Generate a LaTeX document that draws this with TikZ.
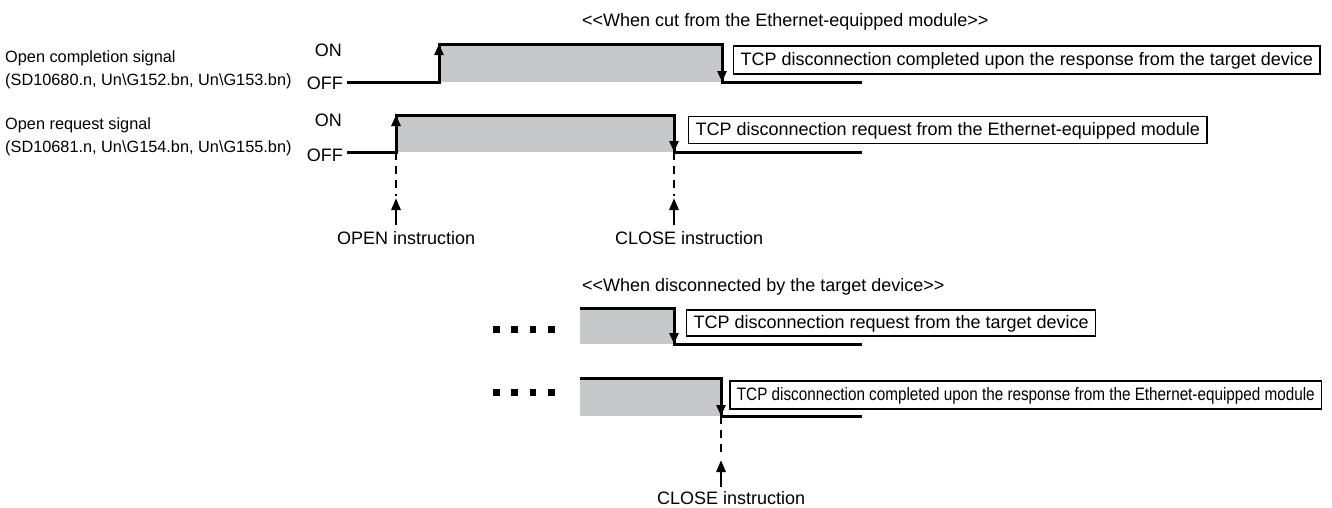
\documentclass[tikz,border=0pt]{standalone}
\usepackage{fontspec}
\newfontfamily\lsans{Liberation Sans}
\usetikzlibrary{arrows.meta}
\definecolor{siggrey}{RGB}{199,200,202}
\tikzset{
  txt/.style={font=\lsans\fontsize{18}{21}\selectfont, inner sep=0pt},
  sidetxt/.style={font=\lsans\fontsize{16.3}{19}\selectfont, inner sep=0pt},
  msgbox/.style={draw=black, line width=1.2pt, font=\lsans\fontsize{18}{21}\selectfont,
    inner xsep=7pt, inner ysep=0pt, text height=12pt, text depth=2pt, minimum height=27pt, anchor=west},
  sigline/.style={line width=3pt, line join=miter, line cap=butt, black},
  edgetip/.style={line width=2.6pt, -{Triangle[length=11pt,width=9pt]}},
  dashline/.style={line width=2.8pt, dash pattern=on 8pt off 6pt},
  instarrow/.style={line width=2.8pt, -{Triangle[length=12pt,width=9pt]}},
  dot/.style={fill=black, draw=none, minimum size=6.5pt, inner sep=0pt}
}
\begin{document}
\begin{tikzpicture}[x=1pt,y=-1pt]
\useasboundingbox (0,0) rectangle (1332,507);

% ---------- key coordinates ----------
% row 1: open completion signal
\coordinate (r1s) at (347,82);  \coordinate (r1a) at (439,82);
\coordinate (r1b) at (439,44);  \coordinate (r1c) at (722,44);
\coordinate (r1d) at (722,82);  \coordinate (r1e) at (862,82);
% row 2: open request signal
\coordinate (r2s) at (347,152); \coordinate (r2a) at (396,152);
\coordinate (r2b) at (396,115); \coordinate (r2c) at (674,115);
\coordinate (r2d) at (674,152); \coordinate (r2e) at (862,152);
% row 3
\coordinate (r3b) at (580,308); \coordinate (r3c) at (674,308);
\coordinate (r3d) at (674,344); \coordinate (r3e) at (862,344);
% row 4
\coordinate (r4b) at (580,378); \coordinate (r4c) at (721,378);
\coordinate (r4d) at (721,416); \coordinate (r4e) at (862,416);

% ---------- grey fills ----------
\fill[siggrey] (r1b) rectangle (r1d);
\fill[siggrey] (r2b) rectangle (r2d);
\fill[siggrey] (r3b) rectangle (r3d);
\fill[siggrey] (r4b) rectangle (r4d);

% ---------- waveforms ----------
\draw[sigline] (r1s) -- (r1a) -- (r1b) -- (r1c) -- (r1d) -- (r1e);
\draw[edgetip] (439,70) -- (r1b);
\draw[edgetip] (722,60) -- (r1d);

\draw[sigline] (r2s) -- (r2a) -- (r2b) -- (r2c) -- (r2d) -- (r2e);
\draw[edgetip] (396,140) -- (r2b);
\draw[edgetip] (674,130) -- (r2d);

\draw[sigline] (r3b) -- (r3c) -- (r3d) -- (r3e);
\draw[edgetip] (674,322) -- (r3d);

\draw[sigline] (r4b) -- (r4c) -- (r4d) -- (r4e);
\draw[edgetip] (721,394) -- (r4d);

% ---------- instruction markers ----------
\coordinate (openend) at (396,196);  \coordinate (opentip) at (396,198);  \coordinate (openfoot) at (396,225);
\coordinate (close1end) at (674,196); \coordinate (close1tip) at (674,198); \coordinate (close1foot) at (674,225);
\coordinate (close2end) at (721,457); \coordinate (close2tip) at (721,460); \coordinate (close2foot) at (721,487);

\draw[dashline] (r2a) -- (openend);
\draw[instarrow] (openfoot) -- (opentip);
\draw[dashline] (r2d) -- (close1end);
\draw[instarrow] (close1foot) -- (close1tip);
\draw[dashline] (r4d) -- (close2end);
\draw[instarrow] (close2foot) -- (close2tip);

\node[txt, anchor=base west] (openlbl) at (337,244) {OPEN instruction};
\node[txt, anchor=base west] (close1lbl) at (615,244) {CLOSE instruction};
\node[txt, anchor=base west] (close2lbl) at (657,504) {CLOSE instruction};

% ---------- titles ----------
\node[txt, anchor=base west] (title1) at (582,26) {<\kern0pt<When cut from the Ethernet-equipped module>\kern0pt>};
\node[txt, anchor=base west] (title2) at (582,291) {<\kern0pt<When disconnected by the target device>\kern0pt>};

% ---------- side labels ----------
\node[sidetxt, anchor=base west] (l1a) at (5,62.5) {Open completion signal};
\node[sidetxt, anchor=base west] (l1b) at (5,85.5) {(SD10680.n, Un\textbackslash G152.bn, Un\textbackslash G153.bn)};
\node[sidetxt, anchor=base west] (l2a) at (5,129.5) {Open request signal};
\node[sidetxt, anchor=base west] (l2b) at (5,152.5) {(SD10681.n, Un\textbackslash G154.bn, Un\textbackslash G155.bn)};

\node[txt, anchor=base east] (on1) at (342,56.5) {ON};
\node[txt, anchor=base east] (off1) at (343,89.5) {OFF};
\node[txt, anchor=base east] (on2) at (342,126.5) {ON};
\node[txt, anchor=base east] (off2) at (343,161.5) {OFF};

% ---------- message boxes ----------
\node[msgbox, minimum height=28pt] (box1) at (733,60) {TCP disconnection completed upon the response from the target device};
\node[msgbox] (box2) at (688,130) {TCP disconnection request from the Ethernet-equipped module};
\node[msgbox, minimum height=26pt] (box3) at (686,323) {TCP disconnection request from the target device};
\node[msgbox, minimum height=28pt] (box4) at (729.3,395) {\scalebox{0.848}[1]{TCP disconnection completed upon the response from the Ethernet-equipped module}};

% ---------- continuation dots ----------
\foreach \i/\xx in {1/496.3,2/514.7,3/533,4/551.3}{
  \node[dot] (dA\i) at (\xx,329.7) {};
  \node[dot] (dB\i) at (\xx,392.3) {};
}
\end{tikzpicture}
\end{document}
